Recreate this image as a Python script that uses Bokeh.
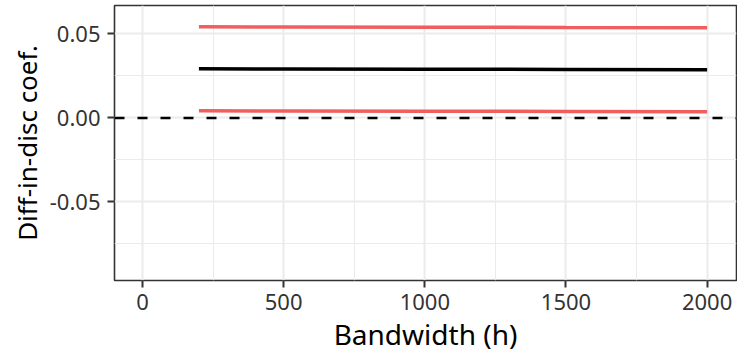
from bokeh.plotting import figure
from bokeh.models import Range1d, FixedTicker, Span, ColumnDataSource
from bokeh.embed import file_html
from bokeh.resources import INLINE

# Data
bandwidth = [200, 500, 1000, 1500, 2000]
upper_ci = [0.0542, 0.0541, 0.0540, 0.0538, 0.0537]
estimate = [0.0292, 0.0291, 0.0290, 0.0288, 0.0286]
lower_ci = [0.0042, 0.0041, 0.0040, 0.0038, 0.0036]

x_ticks = [0, 500, 1000, 1500, 2000]
x_minor = [250, 750, 1250, 1750]
y_ticks = [-0.05, 0.0, 0.05]
y_minor = [-0.075, -0.025, 0.025]
y_labels = {-0.05: "-0.05", 0.0: "0.00", 0.05: "0.05"}

FONT = "Noto Sans"
RED = "#EF5F5F"

src = ColumnDataSource(dict(x=bandwidth, up=upper_ci, est=estimate, lo=lower_ci))

p = figure(width=737, height=356, output_backend="svg", toolbar_location=None,
           x_range=Range1d(-99, 2104), y_range=Range1d(-0.0968, 0.0669),
           min_border_left=114, min_border_right=1, min_border_top=5, min_border_bottom=76)

p.background_fill_color = "white"
p.border_fill_color = "white"
p.outline_line_color = "#333333"
p.outline_line_width = 1.6

p.xaxis.ticker = FixedTicker(ticks=x_ticks, minor_ticks=x_minor)
p.yaxis.ticker = FixedTicker(ticks=y_ticks, minor_ticks=y_minor)
p.yaxis.major_label_overrides = {float(k): v for k, v in y_labels.items()}
p.xaxis.major_label_overrides = {t: str(t) for t in x_ticks}

for ax in (p.xaxis[0], p.yaxis[0]):
    ax.axis_line_color = None
    ax.major_tick_line_color = "#333333"
    ax.major_tick_line_width = 2
    ax.major_tick_out = 7
    ax.major_tick_in = 0
    ax.minor_tick_line_color = None
    ax.major_label_text_font = FONT
    ax.major_label_text_font_size = "22px"
    ax.major_label_text_color = "#333333"
    ax.axis_label_text_font = FONT
    ax.axis_label_text_font_style = "normal"
    ax.axis_label_text_color = "black"

p.xaxis.axis_label_text_font_size = "28px"
p.yaxis.axis_label_text_font_size = "26px"
p.xaxis.axis_label = "Bandwidth (h)"
p.yaxis.axis_label = "Diff-in-disc coef."
p.xaxis.major_label_standoff = 6
p.yaxis.major_label_standoff = 7
p.xaxis.axis_label_standoff = 2
p.yaxis.axis_label_standoff = 2

for g in (p.xgrid[0], p.ygrid[0]):
    g.grid_line_color = "#EBEBEB"
    g.grid_line_width = 2
    g.minor_grid_line_color = "#EBEBEB"
    g.minor_grid_line_width = 1

p.add_layout(Span(location=0, dimension="width", line_color="black",
                  line_width=2.5, line_dash="10 13"))

p.line("x", "up", source=src, line_color=RED, line_width=3.5)
p.line("x", "lo", source=src, line_color=RED, line_width=3.5)
p.line("x", "est", source=src, line_color="black", line_width=3.5)

open("out.html", "w").write(file_html(p, INLINE))
